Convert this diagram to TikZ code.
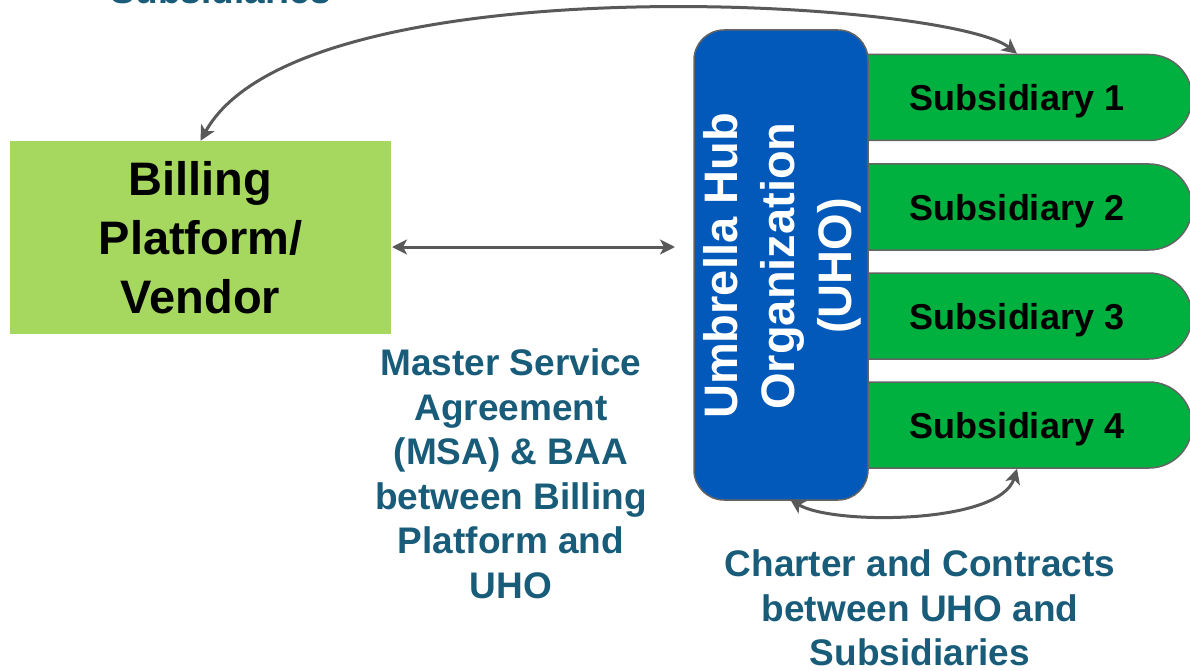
\documentclass[tikz,border=0pt]{standalone}
\usepackage{fontspec}
\setmainfont{Liberation Sans}
\usetikzlibrary{arrows.meta,shapes.misc}
\definecolor{billgreen}{RGB}{166,215,94}
\definecolor{subgreen}{RGB}{0,177,64}
\definecolor{uhoblue}{RGB}{2,89,185}
\definecolor{edgegray}{RGB}{100,100,100}
\definecolor{arrowgray}{RGB}{89,89,89}
\definecolor{labelteal}{RGB}{24,92,122}
\begin{document}
\begin{tikzpicture}[x=1pt,y=-1pt,
  tip/.tip={Stealth[length=15pt,width=15pt,inset=4pt]},
  conn/.style={draw=arrowgray, line width=3pt, tip-tip},
  subbox/.style={rounded rectangle, rounded rectangle left arc=none,
    fill=subgreen, draw=edgegray, line width=1.5pt,
    minimum width=348pt, minimum height=86pt, inner sep=0pt,
    text depth=0pt, font=\fontsize{36}{43}\selectfont\bfseries},
  lbl/.style={text=labelteal, align=center, inner sep=0pt,
    font=\fontsize{37}{44.5}\selectfont\bfseries}]
\useasboundingbox (0,0) rectangle (1190,671);
\clip (0,0) rectangle (1190,671);

% billing platform
\node[fill=billgreen, minimum width=381pt, minimum height=193pt, inner sep=0pt,
  align=center, font=\fontsize{47}{59}\selectfont\bfseries]
  (bill) at (200.5,237.5) {Billing\\Platform/\\Vendor};

% subsidiaries (drawn before the hub so the hub covers their left ends)
\node[subbox] (sub1) at (1017,97.5) {Subsidiary 1};
\node[subbox] (sub2) at (1017,207) {Subsidiary 2};
\node[subbox] (sub3) at (1017,316) {Subsidiary 3};
\node[subbox] (sub4) at (1017,425) {Subsidiary 4};

% umbrella hub
\node[fill=uhoblue, draw=edgegray, line width=1.5pt, rounded corners=30pt,
  minimum width=174pt, minimum height=470pt] (uho) at (781,265) {};
\node[rotate=90, text=white, align=center, inner sep=0pt,
  font=\fontsize{47}{57}\selectfont\bfseries]
  (uhotext) at (782,266) {Umbrella Hub\\Organization\\(UHO)};

% labels
\node[lbl, anchor=base] (toplbl) at (221,4) {Subsidiaries};
\node[lbl, anchor=north] (msa) at (511,348.5)
  {Master Service\\Agreement\\(MSA) \& BAA\\between Billing\\Platform and\\UHO};
\node[lbl, anchor=north] (charter) at (920,549.5)
  {Charter and Contracts\\between UHO and\\Subsidiaries};

% connectors
\coordinate (ha) at (392,247);
\coordinate (hb) at (675,247);
\draw[conn] (ha) -- (hb);
\draw[conn] (bill.north) .. controls (300,-40) and (950,0) .. (sub1.north);
\coordinate (ub) at (790,499);
\draw[conn] (ub) .. controls (830,525) and (1000,525) .. (sub4.south);
\end{tikzpicture}
\end{document}
